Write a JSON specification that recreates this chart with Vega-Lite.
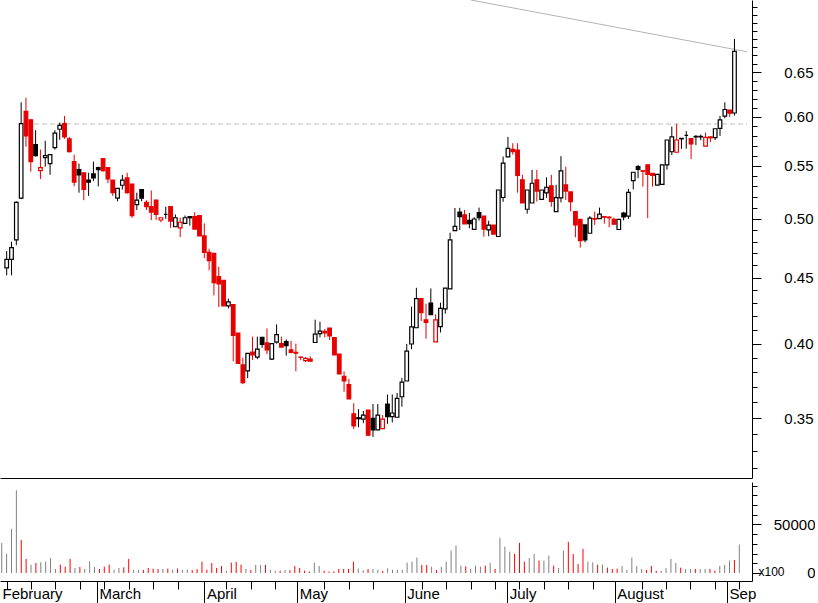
{
"$schema":"https://vega.github.io/schema/vega-lite/v6.json",
"padding":0,
"autosize":{"type":"pad"},
"background":"white",
"spacing":0,
"config":{"font":"Liberation Sans","view":{"stroke":null},"axis":{"labelFont":"Liberation Sans","labelFontSize":15,"labelColor":"black","domainColor":"black","tickColor":"black","grid":false,"titleFont":"Liberation Sans"}},
"datasets":{
"p":[
{"i":0,"o":0.458,"h":0.472,"l":0.452,"c":0.465,"v":31000},
{"i":1,"o":0.465,"h":0.48,"l":0.452,"c":0.475,"v":19650},
{"i":2,"o":0.4815,"h":0.516,"l":0.477,"c":0.515,"v":45500},
{"i":3,"o":0.519,"h":0.616,"l":0.518,"c":0.593,"v":85200},
{"i":4,"o":0.606,"h":0.621,"l":0.569,"c":0.58,"v":34100},
{"i":5,"o":0.597,"h":0.597,"l":0.544,"c":0.554,"v":14500},
{"i":6,"o":0.571,"h":0.586,"l":0.559,"c":0.56,"v":8600},
{"i":7,"o":0.545,"h":0.566,"l":0.537,"c":0.548,"v":10300},
{"i":8,"o":0.558,"h":0.575,"l":0.549,"c":0.56,"v":11000},
{"i":9,"o":0.552,"h":0.561,"l":0.541,"c":0.561,"v":11700},
{"i":10,"o":0.568,"h":0.586,"l":0.566,"c":0.583,"v":15500},
{"i":11,"o":0.587,"h":0.594,"l":0.576,"c":0.591,"v":4100},
{"i":12,"o":0.593,"h":0.601,"l":0.577,"c":0.579,"v":8600},
{"i":13,"o":0.577,"h":0.579,"l":0.563,"c":0.564,"v":6500},
{"i":14,"o":0.554,"h":0.561,"l":0.53,"c":0.534,"v":14500},
{"i":15,"o":0.546,"h":0.552,"l":0.524,"c":0.541,"v":5200},
{"i":16,"o":0.543,"h":0.543,"l":0.517,"c":0.527,"v":6200},
{"i":17,"o":0.536,"h":0.543,"l":0.521,"c":0.534,"v":4100},
{"i":18,"o":0.542,"h":0.554,"l":0.535,"c":0.538,"v":12000},
{"i":19,"o":0.548,"h":0.549,"l":0.53,"c":0.546,"v":6200},
{"i":20,"o":0.557,"h":0.557,"l":0.544,"c":0.545,"v":4100},
{"i":21,"o":0.548,"h":0.548,"l":0.533,"c":0.537,"v":6500},
{"i":22,"o":0.536,"h":0.536,"l":0.521,"c":0.524,"v":8600},
{"i":23,"o":0.519,"h":0.528,"l":0.516,"c":0.528,"v":3400},
{"i":24,"o":0.531,"h":0.541,"l":0.527,"c":0.536,"v":5200},
{"i":25,"o":0.538,"h":0.543,"l":0.523,"c":0.524,"v":5900},
{"i":26,"o":0.532,"h":0.532,"l":0.501,"c":0.503,"v":14500},
{"i":27,"o":0.513,"h":0.524,"l":0.508,"c":0.517,"v":3100},
{"i":28,"o":0.527,"h":0.527,"l":0.516,"c":0.519,"v":3100},
{"i":29,"o":0.515,"h":0.517,"l":0.508,"c":0.511,"v":3100},
{"i":30,"o":0.511,"h":0.526,"l":0.499,"c":0.506,"v":5200},
{"i":31,"o":0.517,"h":0.517,"l":0.499,"c":0.504,"v":4500},
{"i":32,"o":0.499,"h":0.501,"l":0.497,"c":0.501,"v":4100},
{"i":33,"o":0.504,"h":0.511,"l":0.5,"c":0.504,"v":4100},
{"i":34,"o":0.511,"h":0.511,"l":0.492,"c":0.498,"v":4500},
{"i":35,"o":0.493,"h":0.504,"l":0.493,"c":0.501,"v":3500},
{"i":36,"o":0.492,"h":0.501,"l":0.484,"c":0.497,"v":4500},
{"i":37,"o":0.496,"h":0.503,"l":0.496,"c":0.501,"v":3000},
{"i":38,"o":0.502,"h":0.502,"l":0.494,"c":0.501,"v":3500},
{"i":39,"o":0.502,"h":0.506,"l":0.491,"c":0.491,"v":3000},
{"i":40,"o":0.503,"h":0.503,"l":0.485,"c":0.485,"v":4000},
{"i":41,"o":0.485,"h":0.496,"l":0.466,"c":0.471,"v":11700},
{"i":42,"o":0.471,"h":0.474,"l":0.456,"c":0.464,"v":3400},
{"i":43,"o":0.47,"h":0.47,"l":0.436,"c":0.446,"v":10300},
{"i":44,"o":0.451,"h":0.459,"l":0.427,"c":0.445,"v":5200},
{"i":45,"o":0.448,"h":0.448,"l":0.428,"c":0.428,"v":7200},
{"i":46,"o":0.428,"h":0.4335,"l":0.426,"c":0.431,"v":2400},
{"i":47,"o":0.429,"h":0.429,"l":0.3875,"c":0.406,"v":10700},
{"i":48,"o":0.4075,"h":0.4075,"l":0.386,"c":0.386,"v":11400},
{"i":49,"o":0.385,"h":0.39,"l":0.372,"c":0.373,"v":8600},
{"i":50,"o":0.381,"h":0.393,"l":0.376,"c":0.393,"v":4100},
{"i":51,"o":0.394,"h":0.405,"l":0.3885,"c":0.392,"v":3100},
{"i":52,"o":0.3905,"h":0.405,"l":0.389,"c":0.396,"v":8300},
{"i":53,"o":0.4045,"h":0.4045,"l":0.397,"c":0.3995,"v":8300},
{"i":54,"o":0.4005,"h":0.411,"l":0.3925,"c":0.3955,"v":8300},
{"i":55,"o":0.389,"h":0.4,"l":0.3885,"c":0.4,"v":3400},
{"i":56,"o":0.401,"h":0.414,"l":0.4,"c":0.4065,"v":2400},
{"i":57,"o":0.4,"h":0.405,"l":0.3975,"c":0.3975,"v":2400},
{"i":58,"o":0.4015,"h":0.403,"l":0.3915,"c":0.3985,"v":3100},
{"i":59,"o":0.3955,"h":0.402,"l":0.393,"c":0.3937,"v":2800},
{"i":60,"o":0.3938,"h":0.4,"l":0.3807,"c":0.3932,"v":7200},
{"i":61,"o":0.3905,"h":0.3905,"l":0.3883,"c":0.3903,"v":5200},
{"i":62,"o":0.388,"h":0.3905,"l":0.387,"c":0.3895,"v":2400},
{"i":63,"o":0.389,"h":0.391,"l":0.3876,"c":0.3876,"v":1500},
{"i":64,"o":0.4008,"h":0.4175,"l":0.4008,"c":0.4069,"v":10700},
{"i":65,"o":0.4072,"h":0.416,"l":0.4045,"c":0.409,"v":7200},
{"i":66,"o":0.4088,"h":0.4105,"l":0.4045,"c":0.4078,"v":2400},
{"i":67,"o":0.4113,"h":0.4113,"l":0.4026,"c":0.4055,"v":1400},
{"i":68,"o":0.4043,"h":0.4043,"l":0.392,"c":0.392,"v":1700},
{"i":69,"o":0.3925,"h":0.3925,"l":0.3789,"c":0.3789,"v":4100},
{"i":70,"o":0.3772,"h":0.3806,"l":0.367,"c":0.3741,"v":4100},
{"i":71,"o":0.3717,"h":0.3755,"l":0.3623,"c":0.3623,"v":4100},
{"i":72,"o":0.3527,"h":0.3595,"l":0.3432,"c":0.3452,"v":11700},
{"i":73,"o":0.3503,"h":0.3557,"l":0.3444,"c":0.3497,"v":4500},
{"i":74,"o":0.3494,"h":0.3546,"l":0.3469,"c":0.3519,"v":2800},
{"i":75,"o":0.3552,"h":0.3552,"l":0.339,"c":0.3396,"v":4100},
{"i":76,"o":0.35,"h":0.359,"l":0.3385,"c":0.3428,"v":4100},
{"i":77,"o":0.3428,"h":0.359,"l":0.3428,"c":0.3519,"v":3400},
{"i":78,"o":0.3435,"h":0.352,"l":0.3435,"c":0.3495,"v":2100},
{"i":79,"o":0.359,"h":0.3652,"l":0.3465,"c":0.351,"v":4800},
{"i":80,"o":0.351,"h":0.3652,"l":0.3474,"c":0.3533,"v":3400},
{"i":81,"o":0.3506,"h":0.3662,"l":0.3506,"c":0.3627,"v":3400},
{"i":82,"o":0.3637,"h":0.3762,"l":0.3573,"c":0.3733,"v":3400},
{"i":83,"o":0.3741,"h":0.3998,"l":0.3741,"c":0.3947,"v":10700},
{"i":84,"o":0.3997,"h":0.4273,"l":0.396,"c":0.4121,"v":11700},
{"i":85,"o":0.4115,"h":0.442,"l":0.4115,"c":0.4335,"v":15900},
{"i":86,"o":0.4336,"h":0.4336,"l":0.4164,"c":0.4228,"v":8300},
{"i":87,"o":0.4173,"h":0.4296,"l":0.4035,"c":0.4155,"v":8300},
{"i":88,"o":0.4301,"h":0.4415,"l":0.4212,"c":0.4212,"v":6500},
{"i":89,"o":0.4012,"h":0.4215,"l":0.4012,"c":0.4173,"v":3100},
{"i":90,"o":0.4123,"h":0.4304,"l":0.408,"c":0.426,"v":6500},
{"i":91,"o":0.4256,"h":0.4417,"l":0.422,"c":0.4417,"v":11700},
{"i":92,"o":0.4411,"h":0.4878,"l":0.4411,"c":0.4815,"v":23100},
{"i":93,"o":0.4896,"h":0.5098,"l":0.4896,"c":0.4933,"v":28300},
{"i":94,"o":0.5061,"h":0.51,"l":0.4902,"c":0.5021,"v":7600},
{"i":95,"o":0.5037,"h":0.508,"l":0.4955,"c":0.4955,"v":6900},
{"i":96,"o":0.4986,"h":0.5053,"l":0.4917,"c":0.4958,"v":4100},
{"i":97,"o":0.4907,"h":0.5015,"l":0.4907,"c":0.4999,"v":7600},
{"i":98,"o":0.5057,"h":0.5102,"l":0.4985,"c":0.501,"v":6500},
{"i":99,"o":0.5025,"h":0.5025,"l":0.4843,"c":0.491,"v":7600},
{"i":100,"o":0.4903,"h":0.4983,"l":0.4847,"c":0.4944,"v":10300},
{"i":101,"o":0.4944,"h":0.4944,"l":0.4865,"c":0.4865,"v":4100},
{"i":102,"o":0.4845,"h":0.5265,"l":0.4845,"c":0.5265,"v":36200},
{"i":103,"o":0.5195,"h":0.559,"l":0.5155,"c":0.5524,"v":27200},
{"i":104,"o":0.5586,"h":0.579,"l":0.5586,"c":0.5673,"v":22100},
{"i":105,"o":0.5663,"h":0.5725,"l":0.561,"c":0.5639,"v":19650},
{"i":106,"o":0.5656,"h":0.5725,"l":0.524,"c":0.5405,"v":31000},
{"i":107,"o":0.5361,"h":0.541,"l":0.5144,"c":0.5144,"v":11700},
{"i":108,"o":0.5087,"h":0.5265,"l":0.5047,"c":0.5265,"v":15500},
{"i":109,"o":0.5144,"h":0.5458,"l":0.5144,"c":0.5329,"v":19650},
{"i":110,"o":0.5361,"h":0.5458,"l":0.5157,"c":0.5255,"v":12800},
{"i":111,"o":0.5177,"h":0.5265,"l":0.5177,"c":0.5265,"v":12800},
{"i":112,"o":0.5239,"h":0.5386,"l":0.5192,"c":0.5291,"v":17900},
{"i":113,"o":0.5304,"h":0.541,"l":0.511,"c":0.5158,"v":7600},
{"i":114,"o":0.5066,"h":0.5314,"l":0.5066,"c":0.5194,"v":5200},
{"i":115,"o":0.5192,"h":0.5594,"l":0.515,"c":0.5448,"v":23100},
{"i":116,"o":0.5314,"h":0.549,"l":0.5172,"c":0.5255,"v":32100},
{"i":117,"o":0.5247,"h":0.5247,"l":0.5066,"c":0.5157,"v":19650},
{"i":118,"o":0.5066,"h":0.5066,"l":0.4838,"c":0.4946,"v":9300},
{"i":119,"o":0.4996,"h":0.4996,"l":0.475,"c":0.4809,"v":24800},
{"i":120,"o":0.4946,"h":0.4946,"l":0.4795,"c":0.4815,"v":11700},
{"i":121,"o":0.4873,"h":0.5025,"l":0.4873,"c":0.5006,"v":11000},
{"i":122,"o":0.5003,"h":0.5066,"l":0.4946,"c":0.4998,"v":8600},
{"i":123,"o":0.5002,"h":0.5102,"l":0.5002,"c":0.5043,"v":8600},
{"i":124,"o":0.502,"h":0.5025,"l":0.4958,"c":0.5015,"v":5500},
{"i":125,"o":0.5015,"h":0.5025,"l":0.4925,"c":0.501,"v":4100},
{"i":126,"o":0.4996,"h":0.501,"l":0.4952,"c":0.4952,"v":4500},
{"i":127,"o":0.4906,"h":0.4996,"l":0.4906,"c":0.4996,"v":7200},
{"i":128,"o":0.5053,"h":0.5064,"l":0.4987,"c":0.5017,"v":3100},
{"i":129,"o":0.5025,"h":0.5275,"l":0.5,"c":0.5242,"v":15900},
{"i":130,"o":0.5354,"h":0.5435,"l":0.5271,"c":0.5435,"v":7200},
{"i":131,"o":0.549,"h":0.5507,"l":0.5377,"c":0.5464,"v":4100},
{"i":132,"o":0.545,"h":0.545,"l":0.5297,"c":0.5445,"v":3100},
{"i":133,"o":0.5508,"h":0.5508,"l":0.5006,"c":0.5414,"v":7200},
{"i":134,"o":0.5425,"h":0.5425,"l":0.5297,"c":0.5405,"v":2400},
{"i":135,"o":0.5311,"h":0.5415,"l":0.5311,"c":0.5415,"v":2400},
{"i":136,"o":0.5318,"h":0.5508,"l":0.5318,"c":0.5508,"v":5200},
{"i":137,"o":0.5508,"h":0.5758,"l":0.546,"c":0.5758,"v":14500},
{"i":138,"o":0.5638,"h":0.5897,"l":0.5605,"c":0.5791,"v":10300},
{"i":139,"o":0.5633,"h":0.5926,"l":0.5633,"c":0.5758,"v":5500},
{"i":140,"o":0.5775,"h":0.5775,"l":0.5667,"c":0.577,"v":4100},
{"i":141,"o":0.5805,"h":0.585,"l":0.567,"c":0.5805,"v":4100},
{"i":142,"o":0.5772,"h":0.5772,"l":0.5565,"c":0.5718,"v":4100},
{"i":143,"o":0.5795,"h":0.581,"l":0.5705,"c":0.579,"v":4100},
{"i":144,"o":0.5795,"h":0.5815,"l":0.5755,"c":0.579,"v":4100},
{"i":145,"o":0.5695,"h":0.5835,"l":0.5695,"c":0.5785,"v":4100},
{"i":146,"o":0.579,"h":0.5795,"l":0.5736,"c":0.578,"v":2400},
{"i":147,"o":0.5782,"h":0.5875,"l":0.5758,"c":0.5875,"v":7200},
{"i":148,"o":0.5878,"h":0.6011,"l":0.58,"c":0.5968,"v":8300},
{"i":149,"o":0.601,"h":0.616,"l":0.5985,"c":0.6081,"v":12800},
{"i":150,"o":0.6075,"h":0.6075,"l":0.6,"c":0.6041,"v":13400},
{"i":151,"o":0.6043,"h":0.6899,"l":0.6015,"c":0.6747,"v":29300}
],
"ref":[{"i":4,"p":0.5925},{"i":153.6,"p":0.5925}],
"trend":[{"i":96.3,"p":0.7397},{"i":153.6,"p":0.6743}]
},
"vconcat":[
{
"width":752,"height":478,
"layer":[
{"data":{"name":"ref"},"mark":{"type":"line","stroke":"#bdbdbd","strokeDash":[5,3],"strokeWidth":1},
"encoding":{
"x":{"field":"i","type":"quantitative","scale":{"domain":[-0.35,153.6],"nice":false,"zero":false},"axis":{"orient":"bottom","labels":false,"ticks":false,"domain":true,"title":null,"domainColor":"black"}},
"y":{"field":"p","type":"quantitative","scale":{"type":"log","domain":[0.3145,0.7397],"nice":false},
"axis":{"orient":"right","title":null,"values":[0.32,0.33,0.34,0.35,0.36,0.37,0.38,0.39,0.4,0.41,0.42,0.43,0.44,0.45,0.46,0.47,0.48,0.49,0.5,0.51,0.52,0.53,0.54,0.55,0.56,0.57,0.58,0.59,0.6,0.61,0.62,0.63,0.64,0.65,0.66,0.67,0.68,0.69,0.7,0.71,0.72,0.73],
"labelExpr":"(round(datum.value*100)%5==0 && datum.value>0.345 && datum.value<0.655) ? format(datum.value,'.2f') : ''",
"tickSize":{"condition":{"test":"round(datum.value*100)%5==0 && datum.value>0.345 && datum.value<0.655","value":9},"value":5},
"labelAlign":"right","labelBaseline":"middle","labelPadding":52,"labelOverlap":false,"labelFlush":false,"labelBound":false,"zindex":1}}
}},
{"data":{"name":"trend"},"mark":{"type":"line","stroke":"#b4b4b4","strokeWidth":1,"clip":true},
"encoding":{"x":{"field":"i","type":"quantitative"},"y":{"field":"p","type":"quantitative"}}},
{"data":{"name":"p"},"transform":[{"window":[{"op":"lag","field":"c","as":"pc"}],"sort":[{"field":"i"}]}],
"mark":{"type":"rule","strokeWidth":1},
"encoding":{"x":{"field":"i","type":"quantitative"},"y":{"field":"l","type":"quantitative"},"y2":{"field":"h"},
"color":{"condition":{"test":"datum.pc != null && datum.c < datum.pc","value":"#e60000"},"value":"black"}}},
{"data":{"name":"p"},"transform":[{"window":[{"op":"lag","field":"c","as":"pc"}],"sort":[{"field":"i"}]}],
"mark":{"type":"bar","width":3.6,"strokeWidth":1.2},
"encoding":{"x":{"field":"i","type":"quantitative"},"y":{"field":"o","type":"quantitative"},"y2":{"field":"c"},
"stroke":{"condition":{"test":"datum.pc != null && datum.c < datum.pc","value":"#e60000"},"value":"black"},
"fill":{"condition":[{"test":"datum.c < datum.o && datum.pc != null && datum.c < datum.pc","value":"#e60000"},{"test":"datum.c < datum.o","value":"black"}],"value":"white"}}}
]
},
{
"width":752,"height":99,
"data":{"name":"p"},
"transform":[{"window":[{"op":"lag","field":"c","as":"pc"}],"sort":[{"field":"i"}]}],
"mark":{"type":"rule","strokeWidth":1},
"encoding":{
"x":{"field":"i","type":"quantitative","scale":{"domain":[-0.35,153.6],"nice":false,"zero":false},
"axis":{"orient":"bottom","title":null,
"values":[-0.35,1,6,11,16,19.5,21,26,31,36,41.5,46,51,56,60.5,66,71,76,82.5,86,91,96,101,103.5,106,111,116,121,125.5,131,136,141,146,148.5,151],
"labelExpr":"datum.value < 0 ? 'February' : datum.value == 19.5 ? 'March' : datum.value == 41.5 ? 'April' : datum.value == 60.5 ? 'May' : datum.value == 82.5 ? 'June' : datum.value == 103.5 ? 'July' : datum.value == 125.5 ? 'August' : datum.value == 148.5 ? 'Sep' : ''",
"tickSize":{"condition":{"test":"datum.value % 1 != 0","value":26},"value":8},
"tickOpacity":{"condition":{"test":"datum.value < 0","value":0},"value":1},
"labelAlign":"left","labelBaseline":"top","labelOffset":2,"labelPadding":-21,"labelOverlap":false,"labelFlush":false,"labelBound":false}},
"y":{"field":"v","type":"quantitative","scale":{"domain":[-8260,93700],"nice":false,"zero":false},
"axis":{"orient":"right","title":"x100","titleAngle":0,"titleAlign":"left","titleBaseline":"middle","titleX":6,"titleY":89,"titleFontSize":12,"titleFontWeight":"normal","titleColor":"black",
"values":[0,10000,20000,30000,40000,50000,60000,70000,80000,90000],
"labelExpr":"(datum.value==0 || datum.value==50000) ? ''+datum.value : ''",
"tickSize":{"condition":{"test":"datum.value==0 || datum.value==50000","value":9},"value":5},
"labelAlign":"right","labelBaseline":"middle","labelPadding":54,"labelOverlap":false,"labelFlush":false,"labelBound":false}},
"y2":{"datum":0},
"color":{"condition":{"test":"datum.pc != null && datum.c < datum.pc","value":"#ff0000"},"value":"#808080"}
}
}
]
}
